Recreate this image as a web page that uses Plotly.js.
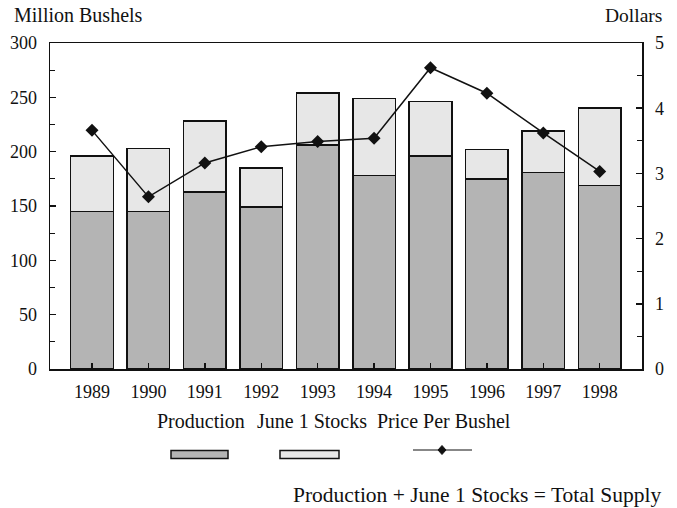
<!DOCTYPE html>
<html>
<head>
<meta charset="utf-8">
<script src="https://cdn.plot.ly/plotly-3.0.1.min.js"></script>
<style>html,body{margin:0;padding:0;background:#fff;}#chart{width:677px;height:508px;}</style>
</head>
<body>
<div id="chart"></div>
<script>
const years = ['1989','1990','1991','1992','1993','1994','1995','1996','1997','1998'];
const production = [145, 145, 163, 149, 206, 178, 196, 175, 181, 169];
const juneStocks = [51, 58, 65, 36, 48, 71, 50, 27, 38, 71];
const pricePerBushel = [3.66, 2.64, 3.16, 3.41, 3.49, 3.54, 4.62, 4.23, 3.62, 3.03];
const leftTicks = [0, 50, 100, 150, 200, 250, 300];
const rightTicks = [0, 1, 2, 3, 4, 5];

const W = 677, H = 508, L = 50, R = 35, T = 43, B = 139;
const PW = W - L - R, PH = H - T - B;
const px = x => (x - L) / PW;
const py = y => (H - B - y) / PH;
const serif = 'Liberation Serif, Times New Roman, serif';
const prodColor = '#b4b4b4', stockColor = '#e7e7e7';

const traces = [
  {type:'bar', x: years, y: production, name:'Production',
   marker:{color: prodColor, line:{color:'#111', width:1.5}}, yaxis:'y', hoverinfo:'skip'},
  {type:'bar', x: years, y: juneStocks, name:'June 1 Stocks',
   marker:{color: stockColor, line:{color:'#111', width:1.5}}, yaxis:'y', hoverinfo:'skip'},
  {type:'scatter', mode:'lines+markers', x: years, y: pricePerBushel, name:'Price Per Bushel',
   line:{color:'#111', width:1.5}, marker:{symbol:'diamond', size:10, color:'#111'}, yaxis:'y2', hoverinfo:'skip'}
];

const font = {family: serif, size: 18, color: '#111'};
const tfont = {family: serif, size: 20, color: '#111'};
const layout = {
  width: W, height: H,
  margin: {l: L, r: R, t: T, b: B},
  paper_bgcolor: '#fff', plot_bgcolor: '#fff',
  barmode: 'stack', bargap: 0.245,
  showlegend: false,
  font: font,
  xaxis: {type:'category', range:[-0.745, 9.75], showline:true, linecolor:'#111', linewidth:1.5, mirror:true,
          ticks:'inside', ticklen:6, tickcolor:'#111', tickwidth:1.5, showgrid:false, zeroline:false,
          tickfont: font, ticklabelstandoff: 6, fixedrange:true},
  yaxis: {range:[0,300], tickvals: leftTicks, ticktext: leftTicks.map(String), showline:true, linecolor:'#111', linewidth:1.5,
          ticks:'inside', ticklen:6, tickcolor:'#111', tickwidth:1.5, showgrid:false, zeroline:false,
          minor:{dtick:25, ticks:'inside', ticklen:5, tickcolor:'#111', tickwidth:1},
          tickfont: font, ticklabelstandoff: 8, fixedrange:true},
  yaxis2: {range:[0,5], tickvals: rightTicks, ticktext: rightTicks.map(String), overlaying:'y', side:'right',
          showline:true, linecolor:'#111', linewidth:1.5,
          ticks:'inside', ticklen:6, tickcolor:'#111', tickwidth:1.5, showgrid:false, zeroline:false,
          minor:{dtick:0.5, ticks:'inside', ticklen:5, tickcolor:'#111', tickwidth:1},
          tickfont: font, ticklabelstandoff: 8, fixedrange:true},
  annotations: [
    {text:'Million Bushels', xref:'paper', yref:'paper', x: px(12), y: py(15), xanchor:'left', yanchor:'middle', showarrow:false, font: tfont},
    {text:'Dollars', xref:'paper', yref:'paper', x: px(664), y: py(15), xanchor:'right', yanchor:'middle', showarrow:false, font:{family:serif, size:19.5, color:'#111'}},
    {text:'Production', xref:'paper', yref:'paper', x: px(155), y: py(421), xanchor:'left', yanchor:'middle', showarrow:false, font: tfont},
    {text:'June 1 Stocks', xref:'paper', yref:'paper', x: px(255), y: py(421), xanchor:'left', yanchor:'middle', showarrow:false, font: tfont},
    {text:'Price Per Bushel', xref:'paper', yref:'paper', x: px(375), y: py(421), xanchor:'left', yanchor:'middle', showarrow:false, font: tfont},
    {text:'Production + June 1 Stocks = Total Supply', xref:'paper', yref:'paper', x: px(663), y: py(495), xanchor:'right', yanchor:'middle', showarrow:false, font:{family:serif, size:21.5, color:'#111'}}
  ],
  shapes: [
    {type:'rect', xref:'paper', yref:'paper', x0: px(171), x1: px(228), y0: py(458.5), y1: py(450.5), fillcolor: prodColor, line:{color:'#111', width:1.5}},
    {type:'rect', xref:'paper', yref:'paper', x0: px(280), x1: px(339), y0: py(458.5), y1: py(450.5), fillcolor: stockColor, line:{color:'#111', width:1.5}},
    {type:'line', xref:'paper', yref:'paper', x0: px(413), x1: px(472), y0: py(450), y1: py(450), line:{color:'#111', width:1.2}},
    {type:'path', xref:'paper', yref:'paper',
     path: `M ${px(442)} ${py(445.5)} L ${px(446)} ${py(450)} L ${px(442)} ${py(454.5)} L ${px(438)} ${py(450)} Z`,
     fillcolor:'#111', line:{color:'#111', width:1}}
  ]
};

Plotly.newPlot('chart', traces, layout, {staticPlot:true, displayModeBar:false});
</script>
</body>
</html>
